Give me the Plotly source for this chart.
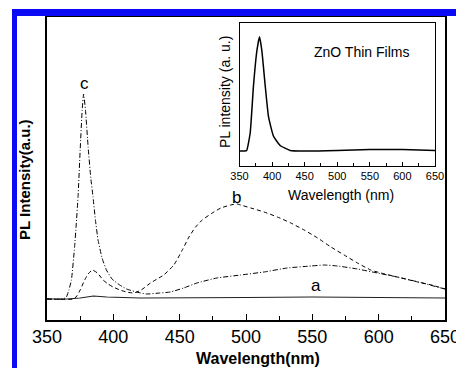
import plotly.graph_objects as go

# ---- data (intensity in arbitrary units) ----
wl_a = [350, 365, 375, 385, 395, 420, 500, 550, 600, 650]
int_a = [21, 21, 22, 24, 23, 22, 22.5, 23, 22.5, 22]

wl_b = [350, 370, 372.5, 375, 378.4, 381, 384.2, 388, 392.3, 396, 399.8, 405, 409.9, 415.4,
        421, 428, 433, 438, 445.6, 452, 457, 462, 467, 474.6, 481, 488.4, 493, 496, 503.6,
        513.6, 523.7, 533.8, 543.8, 554, 564, 574, 584, 594, 601.7, 614, 629.5, 640, 650]
int_b = [21, 21, 24, 30, 40, 46, 50, 47, 40, 36, 33, 30, 28, 27,
         30, 37, 41, 45, 55, 70, 83, 93, 100, 107, 112, 115, 116, 115, 112,
         108, 103, 97, 90, 82, 73, 65, 57, 50, 47, 43, 38, 35, 31]

wl_c = [350, 362, 364.6, 366.5, 368.4, 370.8, 372, 373.4, 375, 376.5, 377.6, 379, 381, 383,
        384.7, 386.5, 388.5, 391.5, 394.8, 399, 404.8, 410, 417.4, 425, 435, 443, 453, 463,
        478, 496, 513.6, 531, 549, 559, 569, 584, 599, 614, 630, 647, 650]
int_c = [21, 21, 23, 30, 40, 73, 95, 123, 170, 210, 226, 210, 173, 142,
         123, 100, 80, 62, 50, 41, 35, 31, 28, 26, 27, 28, 32, 37,
         42, 45, 48, 52, 54, 55, 54, 51, 47, 43, 38, 32, 31]

wl_inset = [350, 358, 361, 366.4, 371.5, 376.7, 380.7, 384.3, 389.4, 394.5, 402, 412.4,
            427.7, 450, 500, 550, 600, 650]
int_inset = [15, 15, 15.5, 33, 80.6, 115.4, 129.3, 115.4, 80.6, 49.3, 30, 20.5,
             15.6, 15, 15.5, 16.5, 16.5, 15.5]

x_ticks = [350, 400, 450, 500, 550, 600, 650]
curve_labels = ["a", "b", "c"]
label_pos_wl = [552.6, 493, 378.2]
label_pos_int = [35, 123, 237]

FONT = "Arial, Liberation Sans, sans-serif"
fig = go.Figure()

fig.add_trace(go.Scatter(x=wl_a, y=int_a, mode="lines",
                         line=dict(color="#222222", width=1.2), showlegend=False))
fig.add_trace(go.Scatter(x=wl_b, y=int_b, mode="lines",
                         line=dict(color="black", width=1, dash="4px,3px",
                                   shape="spline", smoothing=0.5), showlegend=False))
fig.add_trace(go.Scatter(x=wl_c, y=int_c, mode="lines",
                         line=dict(color="black", width=1, dash="5px,2px,1px,2px",
                                   shape="spline", smoothing=0.4), showlegend=False))
fig.add_trace(go.Scatter(x=wl_inset, y=int_inset, mode="lines", xaxis="x2", yaxis="y2",
                         line=dict(color="black", width=1.5, shape="spline", smoothing=0.4),
                         showlegend=False))

# plot area in pixels: x 47..445, y 17..320
L, R, T, B = 47, 445, 17, 320
W, H = 456, 368
def px(x):
    return (x - L) / (R - L)
def py(y):
    return (B - y) / (B - T)

fig.update_layout(
    width=W, height=H, autosize=False,
    margin=dict(l=L, r=W - R, t=T, b=H - B, pad=0, autoexpand=False),
    paper_bgcolor="white", plot_bgcolor="white",
    font=dict(family=FONT, color="black"),
    xaxis=dict(range=[350, 650], tickvals=x_ticks, ticks="inside", ticklen=6,
               tickwidth=1, tickcolor="black", showline=True, linecolor="black",
               linewidth=1.5, mirror=True, showgrid=False, zeroline=False, automargin=False,
               ticklabeloverflow="allow",
               tickfont=dict(size=18, family=FONT),
               minor=dict(dtick=25, tick0=350, ticks="inside", ticklen=4, tickcolor="black")),
    yaxis=dict(range=[0, 303], showticklabels=False, ticks="", showline=True, automargin=False,
               linecolor="black", linewidth=1.5, mirror=True, showgrid=False, zeroline=False),
    xaxis2=dict(domain=[px(239.5), px(435)], anchor="y2", range=[350, 650], automargin=False,
                tickvals=x_ticks, ticks="inside", ticklen=4, tickcolor="black",
                ticklabeloverflow="allow",
                showline=True, linecolor="black", linewidth=1, mirror=True,
                showgrid=False, zeroline=False, tickfont=dict(size=11, family=FONT),
                minor=dict(dtick=25, tick0=350, ticks="inside", ticklen=3, tickcolor="black")),
    yaxis2=dict(domain=[py(166), py(22.7)], anchor="x2", range=[0, 143.3], automargin=False,
                showticklabels=False, ticks="", showline=True, linecolor="black",
                linewidth=1, mirror=True, showgrid=False, zeroline=False),
)

ann = []
def pann(text, x, y, size, angle=0):
    return dict(text=text, x=px(x), y=py(y), xref="paper", yref="paper", showarrow=False,
                xanchor="center", yanchor="middle", textangle=angle,
                font=dict(size=size, family=FONT))
ann.append(pann("<b>Wavelength(nm)</b>", 258, 358, 16))
ann.append(pann("<b>PL Intensity(a.u.)</b>", 24, 180, 15, -90))
ann.append(pann("Wavelength (nm)", 341, 195, 14))
ann.append(pann("PL intensity (a. u.)", 225, 92, 14, -90))
ann.append(pann("ZnO Thin Films", 361, 52, 14))
for t, lx, ly in zip(curve_labels, label_pos_wl, label_pos_int):
    ann.append(dict(text=t, x=lx, y=ly, xref="x", yref="y", showarrow=False,
                    xanchor="center", yanchor="middle", font=dict(size=17, family=FONT)))
fig.update_layout(annotations=ann)

# blue frame bands
blue = "#0a0af5"
fig.add_shape(type="rect", xref="paper", yref="paper", x0=px(12), x1=px(17),
              y0=py(368), y1=py(9), fillcolor=blue, line=dict(width=0), layer="above")
fig.add_shape(type="rect", xref="paper", yref="paper", x0=px(12), x1=px(456),
              y0=py(16), y1=py(9), fillcolor=blue, line=dict(width=0), layer="above")

fig.write_html("out.html", config={"displayModeBar": False},
               post_script="document.body.style.margin='0';")
